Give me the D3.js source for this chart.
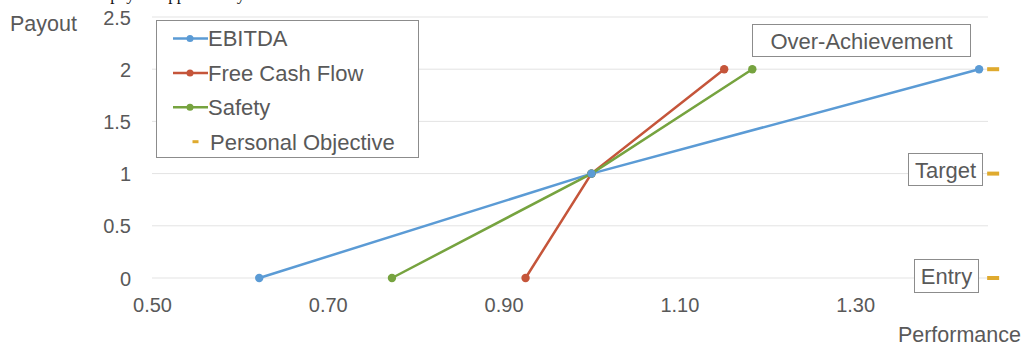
<!DOCTYPE html>
<html><head><meta charset="utf-8">
<script src="https://cdnjs.cloudflare.com/ajax/libs/d3/7.8.5/d3.min.js"></script>
<style>body{margin:0;background:#fff}svg{display:block}</style>
</head><body><svg id="c" width="1024" height="346"></svg>
<script>
const yTicks = [0, 0.5, 1, 1.5, 2, 2.5];
const xTicks = [0.5, 0.7, 0.9, 1.1, 1.3];
const ebitdaX = [0.622, 1.0, 1.441];
const fcfX = [0.925, 1.0, 1.151];
const safetyX = [0.773, 1.0, 1.183];
const payoutY = [0, 1, 2];
const personalX = [1.457, 1.457, 1.457];
const levelLabels = ["Entry", "Target", "Over-Achievement"];
const seriesNames = ["EBITDA", "Free Cash Flow", "Safety", "Personal Objective"];
const colors = ["#5b9bd5", "#c5553a", "#76a33f", "#dfaa2e"];

const svg = d3.select("#c");
const font = "Liberation Sans, Arial, sans-serif";
const grey = "#595959";

const x = d3.scaleLinear().domain([0.5, 1.45]).range([152, 987]);
const y = d3.scaleLinear().domain([0, 2.5]).range([278, 17]);

// cut-off caption at top
svg.append("text").attr("x", 4).attr("y", -0.5).attr("font-family", "Liberation Serif, serif")
  .attr("font-size", 17).attr("fill", "#111")
  .text("award the final payout approved by our board and the levels.");

// gridlines
svg.append("g").selectAll("line").data(yTicks).join("line")
  .attr("x1", x(0.5)).attr("x2", x(1.45) + 1).attr("y1", d => y(d)).attr("y2", d => y(d))
  .attr("stroke", "#e3e3e3").attr("stroke-width", 1);

// y axis labels
const yAxis = d3.axisLeft(y).tickValues(yTicks).tickSize(0).tickPadding(0).tickFormat(d => String(d));
const gy = svg.append("g").attr("transform", "translate(131,0)").call(yAxis);
gy.select(".domain").remove();
gy.selectAll("text").attr("font-family", font).attr("font-size", 20).attr("fill", grey).attr("dy", "0.35em");

// x axis labels
const xAxis = d3.axisBottom(x).tickValues(xTicks).tickSize(0).tickPadding(0).tickFormat(d3.format(".2f"));
const gxa = svg.append("g").attr("transform", "translate(0,298)").call(xAxis);
gxa.select(".domain").remove();
gxa.selectAll("text").attr("font-family", font).attr("font-size", 20).attr("fill", grey).attr("dy", "0.71em");

// axis titles
svg.append("text").attr("x", 10).attr("y", 31).attr("font-family", font).attr("font-size", 21.5).attr("fill", grey).text("Payout");
svg.append("text").attr("x", 1021).attr("y", 342).attr("text-anchor", "end").attr("font-family", font).attr("font-size", 21.5).attr("fill", grey).text("Performance");

// series
const series = [ebitdaX, fcfX, safetyX];
const line = d3.line().x(d => x(d[0])).y(d => y(d[1]));
series.forEach((xs, i) => {
  const pts = xs.map((v, j) => [v, payoutY[j]]);
  const g = svg.append("g");
  g.append("path").attr("d", line(pts)).attr("fill", "none").attr("stroke", colors[i]).attr("stroke-width", 2.5);
  g.selectAll("circle").data(pts).join("circle").attr("cx", d => x(d[0])).attr("cy", d => y(d[1])).attr("r", 4.2).attr("fill", colors[i]);
});
svg.append("circle").attr("cx", x(ebitdaX[1])).attr("cy", y(payoutY[1])).attr("r", 4.2).attr("fill", colors[0]);

// personal objective dashes
svg.append("g").selectAll("rect").data(personalX.map((v, j) => [v, payoutY[j]])).join("rect")
  .attr("x", d => x(d[0]) - 6).attr("y", d => y(d[1]) - 2).attr("width", 12).attr("height", 4).attr("fill", colors[3]);

// level labels with boxes
const boxes = [
  {x0: 914, y0: 259, w: 64, h: 33},
  {x0: 908, y0: 153, w: 74, h: 32},
  {x0: 752, y0: 24, w: 218, h: 32}
];
levelLabels.forEach((t, i) => {
  const b = boxes[i];
  svg.append("rect").attr("x", b.x0 + 0.5).attr("y", b.y0 + 0.5).attr("width", b.w).attr("height", b.h)
    .attr("fill", "#fff").attr("stroke", "#8c8c8c").attr("stroke-width", 1);
  svg.append("text").attr("x", b.x0 + b.w / 2 + 0.5).attr("y", b.y0 + b.h / 2 + 1).attr("dy", "0.36em").attr("text-anchor", "middle")
    .attr("font-family", font).attr("font-size", 22).attr("fill", grey).text(t);
});

// legend
const lg = svg.append("g");
lg.append("rect").attr("x", 156.5).attr("y", 20.5).attr("width", 262).attr("height", 137).attr("fill", "#fff").attr("stroke", "#8c8c8c");
seriesNames.forEach((n, i) => {
  const yy = 38.5 + i * 34.4;
  if (i < 3) {
    lg.append("line").attr("x1", 173).attr("x2", 208).attr("y1", yy).attr("y2", yy).attr("stroke", colors[i]).attr("stroke-width", 2.5);
    lg.append("circle").attr("cx", 190).attr("cy", yy).attr("r", 3.5).attr("fill", colors[i]);
  } else {
    lg.append("rect").attr("x", 192.5).attr("y", yy - 1.5).attr("width", 6).attr("height", 3).attr("fill", colors[3]);
  }
  lg.append("text").attr("x", i < 3 ? 208 : 210).attr("y", yy).attr("dy", "0.36em").attr("font-family", font)
    .attr("font-size", 22).attr("fill", grey).text(n);
});
</script></body></html>
